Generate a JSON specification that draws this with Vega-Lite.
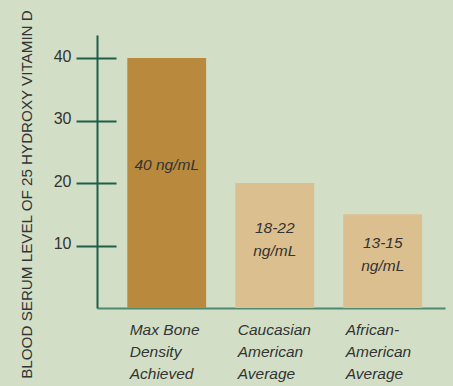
{
  "$schema": "https://vega.github.io/schema/vega-lite/v6.json",
  "autosize": {"type": "none"},
  "padding": {"left": 97, "top": 35, "right": 8, "bottom": 78},
  "width": 348,
  "height": 273,
  "background": "#d2dfc6",
  "config": {
    "view": {"stroke": null},
    "axisX": {
      "domainColor": "#4f8a70",
      "domainWidth": 2,
      "ticks": false,
      "grid": false,
      "labelAngle": 0,
      "labelAlign": "left",
      "labelBaseline": "top",
      "labelOffset": -37,
      "labelPadding": 14,
      "labelFont": "Liberation Sans",
      "labelFontSize": 15.5,
      "labelFontStyle": "italic",
      "labelColor": "#333333",
      "labelLineHeight": 22,
      "labelExpr": "split(datum.label, '|')",
      "title": null
    }
  },
  "data": {
    "values": [
      {"category": "Max Bone|Density|Achieved", "value": 40, "label": "40 ng/mL", "group": "max"},
      {"category": "Caucasian|American|Average", "value": 20, "label": "18-22\nng/mL", "group": "avg"},
      {"category": "African-|American|Average", "value": 15, "label": "13-15\nng/mL", "group": "avg"}
    ]
  },
  "resolve": {"axis": {"y": "independent"}},
  "layer": [
    {
      "mark": {"type": "bar"},
      "encoding": {
        "x": {
          "field": "category", "type": "nominal", "sort": null,
          "scale": {"paddingInner": 0.27, "paddingOuter": 0.246, "align": 0.57}
        },
        "y": {
          "field": "value", "type": "quantitative",
          "scale": {"domain": [0, 43.7], "nice": false, "zero": true},
          "axis": {
            "orient": "left",
            "domain": true,
            "domainColor": "#1f5e48",
            "domainWidth": 2,
            "ticks": false,
            "labels": false,
            "grid": false,
            "title": "BLOOD SERUM LEVEL OF 25 HYDROXY VITAMIN D",
            "titleFont": "Liberation Sans",
            "titleFontSize": 15.2,
            "titleFontWeight": "normal",
            "titleColor": "#333333",
            "titleAngle": -90,
            "titleAlign": "center",
            "titleBaseline": "alphabetic",
            "titleX": -66,
            "titleY": 159
          }
        },
        "color": {
          "field": "group", "type": "nominal", "legend": null,
          "scale": {"domain": ["max", "avg"], "range": ["#b98a3e", "#dcbf8e"]}
        }
      }
    },
    {
      "transform": [{"calculate": "datum.value * 0.5", "as": "label_y"}],
      "mark": {
        "type": "text",
        "font": "Liberation Sans",
        "fontSize": 15.5,
        "fontStyle": "italic",
        "color": "#333333",
        "align": "center",
        "baseline": "middle",
        "lineBreak": "\n",
        "lineHeight": 23,
        "dy": -18
      },
      "encoding": {
        "x": {
          "field": "category", "type": "nominal", "sort": null,
          "scale": {"paddingInner": 0.27, "paddingOuter": 0.246, "align": 0.57}
        },
        "y": {
          "field": "label_y", "type": "quantitative",
          "scale": {"domain": [0, 43.7], "nice": false, "zero": true},
          "axis": {
            "orient": "left",
            "offset": -19,
            "values": [10, 20, 30, 40],
            "domain": false,
            "ticks": true,
            "tickSize": 40,
            "tickWidth": 2,
            "tickColor": "#1f5e48",
            "grid": false,
            "labels": true,
            "labelPadding": 5,
            "labelFont": "Liberation Sans",
            "labelFontSize": 16,
            "labelColor": "#333333",
            "labelBaseline": "middle",
            "labelOffset": -2,
            "title": null
          }
        },
        "text": {"field": "label", "type": "nominal"}
      }
    }
  ]
}
